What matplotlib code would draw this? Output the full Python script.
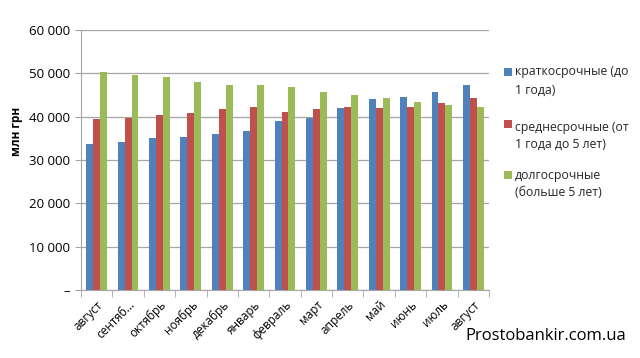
import matplotlib
matplotlib.use("Agg")
import matplotlib.pyplot as plt
import numpy as np
from matplotlib.ticker import FuncFormatter, FixedLocator
from matplotlib.patches import Rectangle

plt.rcParams['font.family'] = ['Open Sans', 'DejaVu Sans']

months = ["август", "сентяб...", "октябрь", "ноябрь", "декабрь", "январь", "февраль",
          "март", "апрель", "май", "июнь", "июль", "август"]
short_term = [33600, 34150, 35000, 35400, 35900, 36750, 38900, 39750, 41900, 44000, 44500, 45750, 47300]
medium_term = [39400, 39600, 40500, 40800, 41700, 42200, 41150, 41800, 42200, 42050, 42200, 43150, 44200]
long_term = [50300, 49700, 49150, 48050, 47400, 47200, 46800, 45600, 45100, 44300, 43450, 42600, 42200]
series_labels = ["краткосрочные (до\n1 года)", "среднесрочные (от\n1 года до 5 лет)", "долгосрочные\n(больше 5 лет)"]
colors = ["#4F81BD", "#C0504D", "#9BBB59"]

W, H = 640, 358
fig = plt.figure(figsize=(6.4, 3.58), dpi=100)
ax = fig.add_axes([81/W, 1-290/H, (489-81)/W, (290-30)/H])

x = np.arange(len(months))
w = 0.22
for i, (vals, c) in enumerate(zip([short_term, medium_term, long_term], colors)):
    ax.bar(x + (i-1)*w, vals, width=w, color=c, zorder=3)

ax.set_xlim(-0.5, len(months)-0.5)
ax.set_ylim(0, 60000)
ax.set_yticks(np.arange(0, 60001, 10000))
ax.yaxis.set_major_formatter(FuncFormatter(lambda v, p: "–" if v == 0 else f"{int(v):,}".replace(",", " ")))
ax.grid(axis='y', color='#A6A6A6', linewidth=0.9, zorder=0)
for s in ['top', 'right']:
    ax.spines[s].set_visible(False)
for s in ['left', 'bottom']:
    ax.spines[s].set_color('#A6A6A6')
ax.tick_params(axis='y', length=4, color='#A6A6A6', labelsize=9.5, pad=4)
ax.set_xticks(x)
ax.set_xticklabels(months, rotation=45, ha='right', rotation_mode='anchor', fontsize=8.5)
ax.tick_params(axis='x', length=0, pad=6)
ax.xaxis.set_minor_locator(FixedLocator(np.arange(-0.5, len(months), 1)))
ax.tick_params(axis='x', which='minor', length=5, color='#A6A6A6')
ax.set_ylabel("млн грн", fontsize=8.5, fontweight='bold', labelpad=6)
ax.yaxis.set_label_coords(-0.143, 0.61)

# manual legend
line_y = [(72, 90), (127, 144), (176, 193)]
sq_y = [72, 124, 175]
for lab, c, ly, sy in zip(series_labels, colors, line_y, sq_y):
    fig.patches.append(Rectangle((504/W, 1-(sy+4)/H), 8/W, 8/H, facecolor=c,
                                 transform=fig.transFigure, figure=fig))
    for txt, yy in zip(lab.split("\n"), ly):
        fig.text(515/W, 1-yy/H, txt, fontsize=8.8, va='center', ha='left', color='#262626')

fig.text(465/W, 1-336/H, "Prostobankir.com.ua", fontsize=12, va='center', ha='left')

fig.savefig("out.png", dpi=100)
